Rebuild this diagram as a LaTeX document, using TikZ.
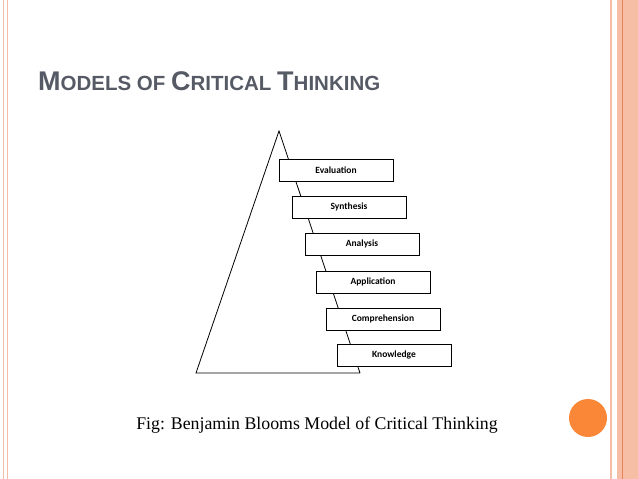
\documentclass[tikz,border=0pt]{standalone}
\usepackage{fontspec}
\setmainfont{Liberation Serif}
\newfontfamily\titlefont{Liberation Sans}
\newfontfamily\boxfont{Carlito}
\definecolor{salmon}{RGB}{246,190,165}
\definecolor{salmondark}{RGB}{232,130,95}
\definecolor{dotorange}{RGB}{250,135,55}
\definecolor{titlegray}{RGB}{85,90,100}
\newcommand{\bigc}[1]{{\fontsize{27}{27}\selectfont #1}}
\newcommand{\smallc}[1]{{\fontsize{20.5}{20.5}\selectfont #1}}

\begin{document}
\begin{tikzpicture}[x=1pt, y=-1pt]
    \tikzstyle{level}=[draw, thick, minimum width=114pt, minimum height=22pt, inner sep=0pt,
                       font=\boxfont\bfseries\fontsize{9.5}{10}\selectfont, fill=white]
    \useasboundingbox (0,0) rectangle (638,479);
    % slide border
    \fill[salmon] (617,0) rectangle (638,479);
    \draw[salmondark] (622,0) -- (622,479);
    \draw[salmon, line width=1.5pt] (611,0) -- (611,479);
    \draw[salmon, line width=1pt] (3,0) -- (3,479);
    \draw[salmon, line width=0.6pt] (7,0) -- (7,479);
    \fill[dotorange] (588,418) circle (19);

    \node[anchor=base west, text=titlegray, font=\titlefont\bfseries, inner sep=0pt] (title) at (38,90)
        {\bigc{M}\smallc{ODELS OF }\bigc{C}\smallc{RITICAL }\bigc{T}\smallc{HINKING}};

    % pyramid
    \coordinate (apex) at (279,131);
    \coordinate (baseL) at (196,373);
    \coordinate (baseR) at (360,373);
    \draw[thick] (baseR) -- (baseL) -- (apex) -- (baseR);

    \node[level] (eval)  at (336,170) {Evaluation};
    \node[level] (synth) at (349,207) {Synthesis};
    \node[level] (anal)  at (362,244) {Analysis};
    \node[level] (appl)  at (373,282) {Application};
    \node[level] (comp)  at (383,319) {Comprehension};
    \node[level] (know)  at (394,355) {Knowledge};

    \node[font=\fontsize{17.8}{20}\selectfont] (caption) at (317,425) {Fig: Benjamin Blooms Model of Critical Thinking};
\end{tikzpicture}
\end{document}
